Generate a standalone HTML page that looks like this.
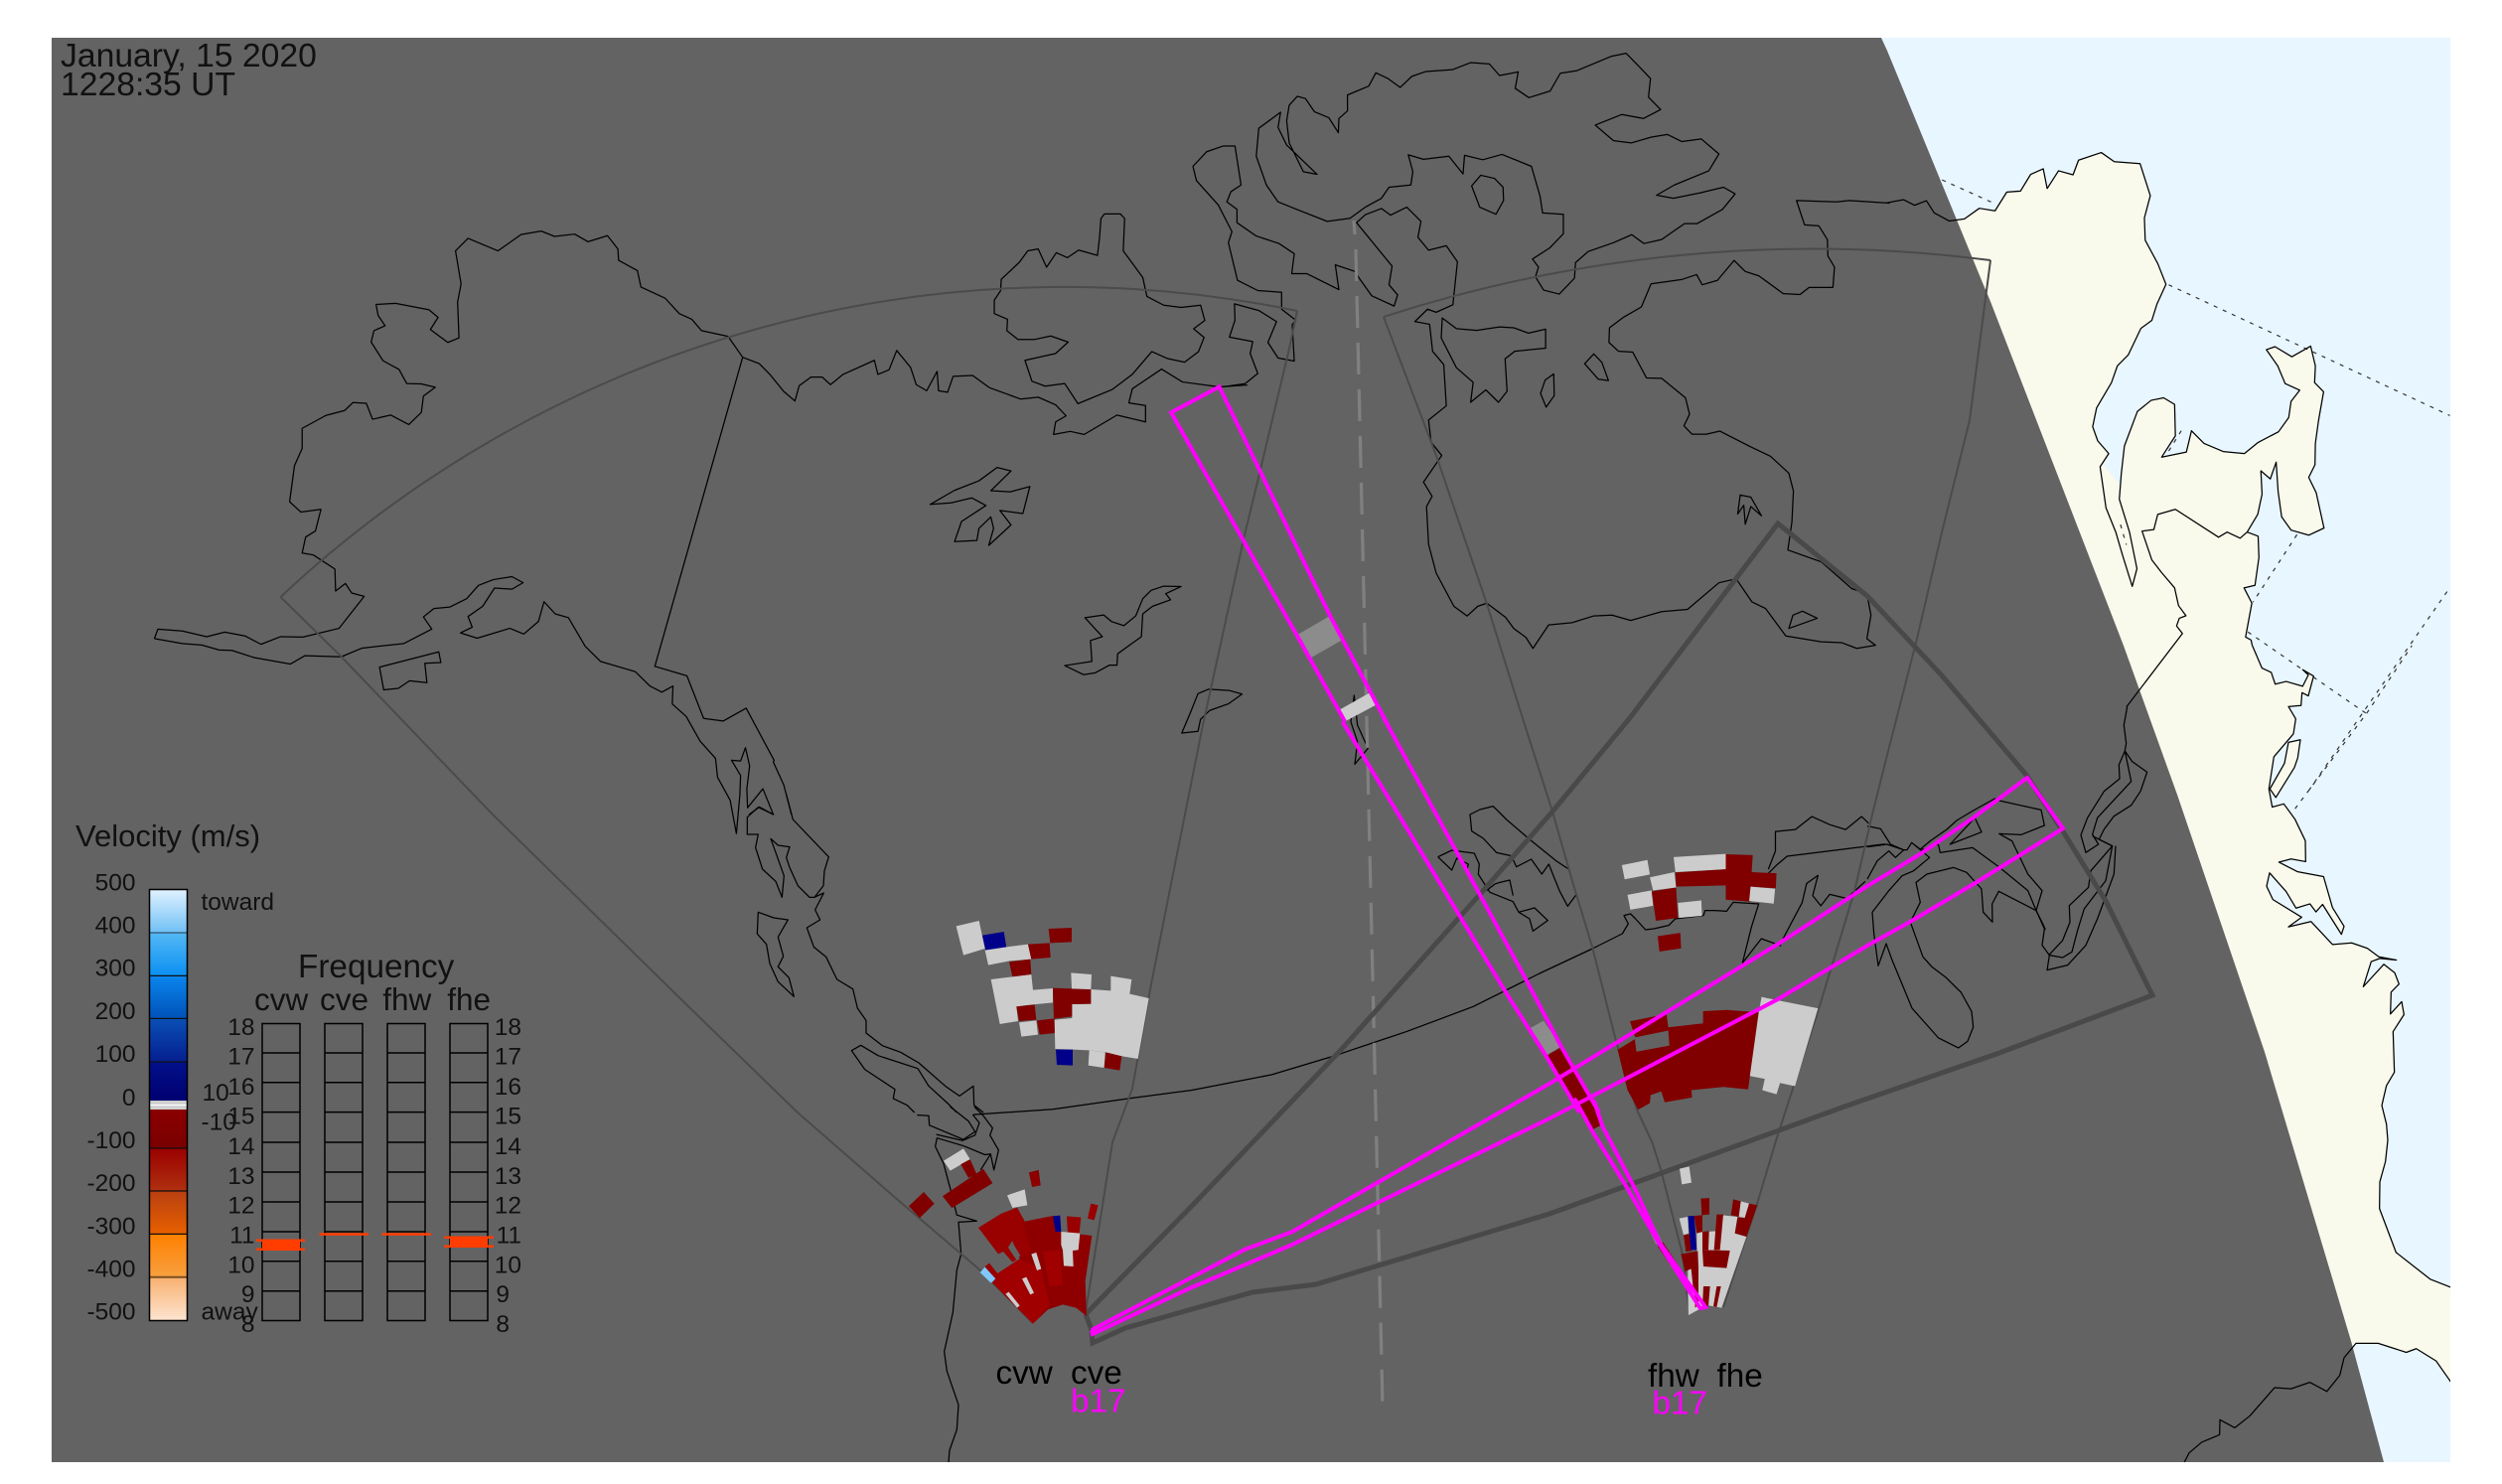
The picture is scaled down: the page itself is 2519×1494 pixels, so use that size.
<!DOCTYPE html>
<html><head><meta charset="utf-8"><title>Velocity map</title>
<style>
html,body{margin:0;padding:0;background:#fff}
svg{display:block}
svg *{vector-effect:non-scaling-stroke}
.c{fill:none;stroke:#000;stroke-width:1.25;stroke-linejoin:round}
.f{fill:none;stroke:#4b4b4b;stroke-width:2}
.d{fill:none;stroke:#333;stroke-width:1.2;stroke-dasharray:4 6}
.k{fill:none;stroke:#494949;stroke-width:5;stroke-linejoin:miter}
.m{fill:none;stroke:#ff00ff;stroke-width:4;stroke-linejoin:miter}
.r{fill:#800000}.w{fill:#cccccc}.b{fill:#00008b}.s{fill:#8c8c8c}
text{font-family:"Liberation Sans",sans-serif;fill:#111}
</style></head><body>
<svg xmlns="http://www.w3.org/2000/svg" width="2519" height="1494" viewBox="0 0 2519 1494">
<defs>
<clipPath id="plot"><rect x="52" y="38" width="2415" height="1434"/></clipPath>
<polyline id="c4" points="0,400 42,394 70,405 100,396 120,420 158,436 197,432 235,411 275,416 305,379 340,377 366,344 398,333 408,372 437,337 474,345 488,316 546,301 579,319 645,323 671,386 656,430 658,474 690,520 711,561 688,600 675,632 647,648 615,700 587,722 572,755 534,805 524,842 537,870 565,895 543,921 558,1002 583,1050 600,1095 625,1157 637,1122 618,1050 592,985 597,935 605,880 638,812 673,790 705,785 733,798 735,860 700,902 763,892 776,850 808,875 857,891 911,895 946,873 998,852 1024,824 1030,792 1052,770 1015,757 996,722 967,690 989,684 1032,704 1080,683 1092,722 1090,755 1113,773 1100,830 1092,875 1091,917 1075,942 1094,972 1114,1042 1075,1056 1030,1046 1006,1020 997,970 992,912 977,945 953,929 956,975 945,1015 918,1050 946,1058 948,1100 938,1155 910,1160 930,1190 914,1257 928,1263 931,1274"/>
<polyline id="c7" points="503,0 532,42 560,50 572,72 605,67 655,76 672,55 655,45 688,57 672,94 653,88 650,112 612,114 634,137 627,165 568,208 553,268 563,302 598,296 632,325 663,365 664,404 620,399 583,405 640,423 718,432 745,490 780,525 772,540 715,484 695,498 677,483 635,491 605,460 555,425 546,450 565,475 652,508 612,526 680,516 745,559 803,556 850,566 885,582 938,588 888,585 862,591 838,638 900,596 933,612 946,633 922,648 920,689 954,666 961,690 928,722 932,798 908,823 894,860 908,895 912,925 905,965 888,1003 887,1053 937,1135 1040,1185 1101,1200 1120,1200 1120,1392 1101,1376 1058,1338 998,1315 968,1322 883,1305 816,1305 780,1332 767,1365 728,1395 677,1378 620,1390 570,1388 495,1441 450,1463 405,1448 404,1476 350,1490 312,1510 297,1528"/>
</defs>
<rect width="2519" height="1494" fill="#fff"/>
<g clip-path="url(#plot)">
<rect x="52" y="38" width="2415" height="1434" fill="#e8f6ff"/>
<polygon points="1900,204 2268,650 2199,1472 2000,1472 1900,500" fill="#f9f9ec"/>
<g transform="translate(1900,0) scale(.39479,.5102)"><use href="#c4" fill="#f9f9ec"/></g>
<g transform="translate(2100,650) scale(.33333,.53821)"><use href="#c7" fill="#f9f9ec"/></g>

<g transform="translate(1900,0) scale(.39479,.5102)">
<polyline class="d" points="140,355 275,402"/>
<polyline class="d" points="718,562 1435,820"/>
<polyline class="d" points="718,890 750,850"/>
<polyline class="d" points="595,1035 610,1075"/>
<polyline class="d" points="1045,1055 933,1188"/>
<polyline class="d" points="920,1247 1222,1408"/>
<polyline class="d" points="1075,1560 1430,1165"/>
</g>
<g transform="translate(2100,650) scale(.33333,.53821)">
<polyline class="d" points="632,305 850,125 985,0"/>
</g>

<polygon points="52,38 1894,38 1900,51 1997,287 2003,301 2138,650 2192,800 2280,1059 2367,1350 2400,1472 52,1472" fill="#636363"/>

<!-- coasts -->
<g transform="translate(1900,0) scale(.39479,.5102)">
<use href="#c4" class="c"/>
<polyline class="c" points="918,1050 900,1062 867,1050 845,1060 735,1005 690,1015 680,1045 650,1048 675,1105 700,1130 733,1160 743,1195 762,1215 745,1220 738,1235 753,1250 610,1395"/>
</g>
<g transform="translate(2100,650) scale(.33333,.53821)">
<use href="#c7" class="c"/>
<polygon class="c" style="fill:#f9f9ec" points="612,181 648,176 640,210 630,228 574,284 556,268 600,220"/>
</g>
<g transform="translate(140,220) scale(.70175,.3827)">
<polyline class="c" points="22,1105 27,1080 62,1085 97,1100 123,1088 152,1098 175,1120 203,1100 235,1101 287,1078 323,994 305,985 296,960 282,980 281,922 250,885 234,880 239,838 253,822 261,765 232,772 216,745 223,650 234,605 234,552 268,518 295,505 307,484 326,486 335,528 361,517 387,542 405,510 408,467 425,444 405,435 384,434 373,397 350,374 333,325 337,295 353,282 343,255 340,226 368,223 416,240 429,260 418,292 443,326 459,314 457,220 462,172 454,85 472,52 515,85 548,42 577,33 596,47 625,41 644,61 672,45 687,80 688,110 715,137 720,180 755,210 775,250 793,265 807,295 845,310 866,365 890,382 905,410 925,455 941,480 947,440 964,417 980,417 992,437 1010,410 1055,373 1060,410 1076,398 1087,347 1107,392 1115,437 1130,453 1145,402 1147,453 1160,457 1168,415 1196,413 1220,445 1265,475 1290,470 1315,490 1330,519 1315,535 1312,568 1336,560 1356,568 1403,517 1444,535 1444,492 1420,485 1425,448 1467,396 1497,430 1550,443 1590,438"/>
<polyline class="c" points="22,1105 62,1118 90,1122 115,1135 133,1136 165,1155 217,1172 238,1150 290,1153 320,1130 380,1118 420,1080 408,1048 423,1026 446,1022 470,1000 487,965 508,950 535,942 551,958 535,975 510,972 493,1020 472,1047 478,1075 461,1090 485,1104 532,1078 552,1093 573,1060 581,1008 597,1040 616,1050 640,1125 662,1165 712,1192 733,1230 750,1246 766,1230 765,1277 785,1310 805,1375 827,1420 830,1470 848,1530 857,1618 862,1515 863,1465 850,1425 863,1427 870,1392 876,1440 872,1500 873,1550 895,1500 910,1568 890,1548 875,1568"/>
<polyline class="c" points="866,365 740,1178 786,1203 810,1315 838,1322 871,1288 911,1425 910,1430 925,1490 936,1568"/>
<polygon class="c" points="1380,0 1378,50 1375,97 1348,83 1332,103 1316,90 1302,128 1290,80 1275,85 1263,115 1237,160 1236,190 1227,215 1227,250 1246,265 1245,295 1261,318 1285,318 1308,309 1333,325 1315,355 1271,373 1281,428 1300,441 1328,434 1347,487 1396,450 1425,410 1453,350 1475,368 1500,378 1520,350 1528,313 1513,290 1529,268 1523,228 1495,234 1470,228 1446,205 1440,155 1412,85 1414,0 1408,-12 1385,-12"/>
<polygon class="c" points="1135,752 1170,715 1205,690 1231,655 1251,664 1222,716 1250,719 1278,705 1268,776 1235,768 1251,806 1219,860 1226,815 1222,785 1205,815 1202,847 1170,850 1180,797 1215,755 1195,735 1165,748"/>
<polygon class="c" points="1495,968 1470,967 1452,978 1440,1000 1430,1045 1413,1071 1395,1060 1384,1043 1357,1050 1382,1100 1365,1110 1367,1165 1328,1176 1355,1200 1372,1195 1392,1175 1403,1175 1404,1145 1438,1100 1440,1040 1454,1020 1480,1003 1473,987"/>
<polygon class="c" points="430,1140 345,1180 351,1240 372,1236 388,1216 413,1221 410,1170 433,1168"/>
</g>
<g transform="translate(1150,30) scale(.5102,.44643)">
<polyline class="c" points="160,805 203,798 228,775 213,730 218,703 172,693 183,655 182,618 230,633 265,658 248,705 268,740 300,747 296,665 303,655 275,630 275,592 228,588 188,565 170,480 177,455 150,395 107,340 100,308 127,275 160,262 183,262 195,350 175,365 167,388 187,405 187,435 225,465 270,482 300,505 295,550 325,550 388,586 381,530 420,545 428,560 453,600 497,623 504,598 487,575 493,533 423,435 440,417 472,403 490,418 522,400 550,432 544,468 565,497 600,487 622,523 613,620 580,637 563,630 538,658 567,664 573,725 595,755 600,848 565,880 570,930 591,960 555,1020 572,1052 561,1075 565,1160 580,1225 615,1300 641,1322 662,1300 680,1293 717,1325 733,1350 757,1370 771,1395 802,1342 848,1337 890,1322 927,1320 964,1332 1025,1312 1076,1307 1138,1247 1172,1238 1203,1290 1230,1305 1270,1367 1340,1380 1380,1382 1410,1395 1447,1388 1430,1373 1438,1320 1430,1272 1400,1260 1340,1200 1274,1173 1282,1110 1285,1040 1276,1000 1240,962 1200,940 1140,905 1113,912 1085,912 1069,893 1080,867 1072,830 1025,786 995,785 968,727 940,725 921,705 922,672 950,648 985,625 1004,573 1065,563 1094,552 1105,575 1135,565 1168,520 1190,545 1217,555 1265,595 1298,597 1316,581 1363,581 1366,535 1353,510 1352,473 1335,442 1307,440 1291,385 1370,388 1395,385 1475,391"/>
<polygon class="c" points="387,232 368,198 340,185 322,155 306,150 290,170 285,205 290,255 318,320 345,326 285,260 268,220 273,186 230,222 225,285 245,350 268,388 305,405 365,432 410,425 440,400 472,380 487,355 530,350 534,320 525,282 555,292 605,285 633,325 636,283 672,293 710,281 768,308 785,375 790,413 831,416 831,460 804,492 770,517 782,535 776,557 792,587 823,596 853,560 855,525 880,500 930,480 966,462 990,482 1025,473 1070,437 1095,437 1145,405 1170,370 1147,355 1100,368 1048,380 1015,373 1050,350 1118,318 1138,280 1103,246 1065,252 1036,236 1005,242 965,255 930,250 894,215 946,191 989,200 1023,180 999,152 1003,110 978,80 955,53 925,60 858,92 825,98 805,138 763,153 736,132 742,95 705,103 685,77 648,74 612,90 560,94 532,105 509,130 485,110 461,97 447,127 405,147 405,183 388,200"/>
<polygon class="c" points="650,352 668,328 695,335 712,355 713,385 698,416 666,400"/>
<polygon class="c" points="592,650 620,674 660,678 705,670 733,672 762,684 796,675 796,718 735,725 716,742 720,815 703,840 678,812 648,840 653,795 620,762 590,695"/>
<polygon class="c" points="786,820 795,790 812,776 813,825 797,851"/>
<polygon class="c" points="873,753 891,731 907,750 920,791 900,788"/>
<polygon class="c" points="1180,1049 1201,1054 1222,1096 1201,1075 1190,1115 1187,1072 1175,1092"/>
<polygon class="c" points="1276,1350 1284,1320 1303,1311 1332,1327"/>
<polygon class="c" points="197,1498 172,1490 131,1487 110,1497 95,1540 78,1586 110,1582 115,1555 133,1535 170,1520"/>
</g>
<g transform="translate(700,800) scale(.33333)">
<polyline class="c" points="275,0 295,75 403,188 390,230 387,275 360,310 388,297 362,348 377,378 337,402 358,460 395,490 428,558 476,587 490,645 516,682 516,720 565,758 620,778 675,810 755,880 798,910 840,880 842,938 870,960"/>
<polyline class="c" points="237,60 190,38 157,68 157,120 190,120 182,160 203,225 243,262 262,310 268,245 228,133 250,153 285,158 275,190 285,220 310,275 345,310 360,310"/>
<polygon class="c" points="190,355 237,372 280,378 250,430 266,488 250,520 283,553 298,610 250,565 225,510 215,452 187,420"/>
<polyline class="c" points="790,960 760,930 705,880 672,827 552,788 500,757 472,773 512,830 603,890 598,918 640,938 662,960"/>
</g>
<g transform="translate(900,900) scale(.33333,.35714)">
<polyline class="c" points="243,600 270,625 298,660 290,680 316,722 302,778 292,733 262,778"/>
<polyline class="c" points="170,600 225,640 245,670 210,692 107,652 105,625 70,623"/>
<polyline class="c" points="240,622 480,607 720,575 900,553"/>
<polyline class="c" points="238,622 258,645 245,680 208,695 128,678"/>
<polyline class="c" points="292,733 275,735 210,710 130,688 125,712 150,760 170,830 190,905 250,922 195,925 203,1015 190,1060 178,1180 152,1290 160,1345 195,1440 190,1510 168,1568"/>
</g>
<polyline class="c" points="956,1460 955,1472"/>
<polyline class="c" points="1200,1097.5 1280,1082 1350,1061"/>
<g transform="translate(1350,720) scale(.33333)">
<polyline class="c" points="0,1022 200,955 400,880 600,780 760,705 850,660 868,630 855,605 875,600 890,615 920,648 945,645 990,635 1010,615 1095,605 1100,590 1130,590 1165,592 1185,565 1262,570 1240,640 1213,748 1270,675 1330,697"/>
<polyline class="c" points="710,543 685,577 660,530 628,450 607,480 575,435 530,458 515,425 470,415 430,372 395,350 390,300 420,285 460,275 500,315 570,375 650,440 688,465"/>
<polyline class="c" points="293,428 335,408 403,417 418,450 415,480 440,520 450,535 520,563 537,595 585,582 625,620 580,652 570,615 537,595"/>
<polyline class="c" points="293,428 335,468 350,432 385,450 380,470"/>
<polyline class="c" points="440,530 465,510 480,505 510,498 520,545"/>
<polygon class="c" points="40,-60 50,30 82,100 42,148 50,80 30,20"/>
</g>
<g transform="translate(1560,820) scale(.35714,.40816)">
<polyline class="c" points="617,135 637,90 637,42 693,37 740,5 790,25 835,37 880,5 900,22"/>
<polyline class="c" points="617,145 640,125 670,103 945,73"/>
<polyline class="c" points="650,320 712,218 725,170 757,150 742,200 765,225 790,197 838,207 890,165"/>
</g>
<g transform="translate(1880,680) scale(.33333)">
<polyline class="c" points="0,455 40,463 70,510 110,527 85,550 65,530 30,560 0,615"/>
<polyline class="c" points="0,518 60,510 110,527 120,527 134,505 188,550 140,590 105,605 65,650 15,715 20,780 33,877 57,810 75,860 135,1005 215,1095 275,1125 303,1105 320,1062 315,1015 283,957 235,910 195,880 168,850 130,745 160,685 147,625 180,600 260,580 300,595 345,645 350,715 378,745 377,690 397,652 510,710 528,650 485,600 437,500 398,478 465,481 535,453 525,406 398,378 385,372 320,408 270,438 240,465 190,500 160,525 134,505"/>
<polyline class="c" points="160,525 185,525 205,510 215,512 220,535 318,520 400,580 485,650 510,710 530,750 538,768"/>
<polygon class="c" points="325,430 345,473 250,510"/>
<polyline class="c" points="785,95 775,150 782,205 778,228 760,270 762,312 715,350 665,430 645,482 660,535 698,510 680,480 695,430 797,320 778,228 800,260 845,292 825,350 797,392 745,425 715,465 700,495 740,515"/>
<polyline class="c" points="680,485 740,515 675,590 668,640 610,695 612,745 590,800 548,845"/>
<polyline class="c" points="740,515 720,620 655,705 635,770 618,835 590,852 550,845 528,815 535,765 510,710"/>
<polyline class="c" points="750,515 745,600 695,735 660,815 605,875 543,890 550,845"/>
</g>

<!-- thin FOV lines -->
<path class="f" d="M282.5,601 A1153,1153 0 0 1 1306,313"/>
<polyline class="f" points="282.5,601 343.5,661 496,820 700,1020 803,1120 900,1204.6 986.7,1278.6 1040,1332"/>
<polyline class="f" points="1306,313 1298,351 1267,481 1252,543 1211,730 1177,900 1158,996 1140,1096 1120,1150 1093,1321"/>
<path class="f" d="M1393,319 A1400,1400 0 0 1 2004,262"/>
<polyline class="f" points="2004,262 1983,423 1955,536 1930,643 1900,760 1885,820 1867,897.5 1831,1016 1806,1093 1788.6,1146.6 1769,1212 1735,1316"/>
<polyline class="f" points="1393,319 1446,458.6 1497,608 1532,720 1563,817 1583,887 1603,953 1627,1048 1647.5,1116 1663.6,1150.6 1672.5,1179 1694,1263 1700,1314"/>

<!-- dashed vertical -->
<polyline fill="none" stroke="#808080" stroke-width="3.2" points="1363,222 1364,236"/>
<line x1="1365" y1="251" x2="1392" y2="1415" stroke="#808080" stroke-width="3.2" stroke-dasharray="32 15"/>

<!-- thick outline -->
<polyline class="k" points="1093,1323 1200,1214 1350,1057 1493,897 1563,817 1640,724 1790,527 1880,600 1955,680 2040,780 2077,837 2120,907 2167,1002 2013,1060 1857,1114 1560,1222 1325,1293 1261,1301 1200,1318 1133,1337 1100,1352 1099,1339 1093,1323"/>

<!-- cells: cv cluster upper -->
<g transform="translate(700,800) scale(.33333)">
<polygon class="w" points="788,397 857,381 875,465 810,485"/>
<polygon class="b" points="867,425 932,414 940,462 877,470"/>
<polygon class="w" points="875,470 940,460 1005,452 1015,497 950,502 885,515"/>
<polygon class="r" points="1005,452 1070,448 1073,492 1015,497"/>
<polygon class="r" points="1067,405 1137,402 1137,445 1072,448"/>
<polygon class="r" points="948,505 1012,497 1015,545 958,550"/>
<polygon class="w" points="893,558 958,550 1015,543 1020,590 1080,585 1080,628 1000,636 970,640 975,684 920,693"/>
<polygon class="r" points="970,640 1025,634 1030,680 978,684"/>
<polygon class="w" points="978,688 1030,682 1035,725 985,731"/>
<polygon class="r" points="1032,682 1085,676 1087,720 1040,725"/>
<polygon class="w" points="1138,633 1195,632 1195,588 1255,592 1255,548 1318,558 1312,602 1370,615 1337,798 1290,790 1240,778 1190,772 1140,770 1087,768 1085,680 1138,675"/>
<polygon class="r" points="1080,584 1195,588 1195,632 1138,633 1138,670 1083,677"/>
<polygon class="w" points="1135,538 1197,543 1195,588 1137,586"/>
<polygon class="b" points="1089,770 1140,770 1140,818 1092,816"/>
<polygon class="w" points="1190,772 1238,778 1235,825 1187,818"/>
<polygon class="r" points="1240,778 1288,790 1282,833 1235,825"/>
</g>
<g transform="translate(900,900) scale(.33333,.35714)">
<polygon class="w" points="150,752 210,718 230,748 170,780"/>
<polygon class="r" points="202,762 230,748 250,790 225,800"/>
<polygon class="r" points="147,852 270,775 298,815 175,885"/>
<polygon class="r" points="45,880 90,840 122,873 78,913"/>
<polygon class="r" points="408,785 437,778 443,820 417,825"/>
</g>
<!-- cv fan -->
<g transform="translate(970,1180) scale(.33333)">
<polygon fill="#990000" points="45,168 115,125 162,107 185,148 130,235 105,247"/>
<polygon fill="#990000" points="120,240 135,228 160,265 148,272"/>
<polygon fill="#8e0000" points="105,305 170,262 200,240 180,150 270,132 295,180 388,192 368,330 372,435 340,410 300,400 255,415 210,458 88,335"/>
<polygon fill="#a00000" points="105,305 170,262 235,292 260,400 210,458 88,335"/>
<polygon fill="#a00000" points="240,240 290,235 300,340 260,345"/>
<polygon fill="#990000" points="130,165 180,150 205,240 170,262"/>
<polygon fill="#636363" points="137,228 150,216 172,252 160,262"/>
<polygon fill="#990000" points="65,285 78,275 108,312 95,332"/>
<polygon fill="#80c8ff" points="50,303 65,287 97,322 83,335"/>
<polygon class="w" points="132,70 185,52 193,100 148,108"/>
<polygon fill="#8e0000" points="198,0 225,0 233,40 208,45"/>
<polygon fill="#990000" points="385,95 407,100 395,145 375,140"/>
<polygon class="b" points="270,133 292,131 295,180 278,180"/>
<polygon fill="#990000" points="312,133 355,137 350,185 315,185"/>
<polygon class="w" points="295,180 352,185 347,235 330,237 332,285 303,283 300,235 295,220"/>
<polygon class="w" points="205,248 220,243 235,292 222,297"/>
<polygon class="w" points="177,322 190,317 213,365 202,370"/>
<polygon class="w" points="127,368 137,362 170,403 162,410"/>
</g>
<!-- fh cells upper + big -->
<g transform="translate(1560,820) scale(.35714,.40816)">
<polygon class="w" points="204,125 276,112 283,148 212,160"/>
<polygon class="w" points="283,155 352,142 357,180 292,187"/>
<polygon class="w" points="350,105 497,97 497,135 355,142"/>
<polygon class="r" points="355,143 497,135 497,175 357,178"/>
<polygon class="r" points="497,98 573,100 570,142 640,145 638,182 567,178 565,215 497,210"/>
<polygon class="w" points="567,178 636,183 632,220 563,213"/>
<polygon class="w" points="220,198 288,187 292,225 228,235"/>
<polygon class="r" points="288,190 357,180 362,255 300,262"/>
<polygon class="w" points="362,218 428,212 430,250 365,255"/>
<polygon class="r" points="305,300 369,292 371,330 310,338"/>
<polygon class="r" points="227,510 330,492 335,525 433,515 433,485 500,482 590,488 560,678 490,672 400,680 402,698 325,710 315,683 285,692 283,712 250,728 220,680 192,580 245,552 240,546"/>
<polygon fill="#636363" points="240,550 335,533 338,570 245,585"/>
<polygon class="w" points="598,450 625,455 757,478 692,670 650,662 640,690 600,680 607,652 565,645 590,488"/>
</g>
<!-- fh fan -->
<g transform="translate(1660,1160) scale(.33333)">
<polygon class="w" points="93,50 122,43 129,92 100,97"/>
<polygon class="r" points="157,140 183,138 183,188 160,190"/>
<polygon class="w" points="145,242 205,238 222,190 268,195 260,245 295,255 220,470 175,462 120,492 118,420 118,350 145,345"/>
<polygon class="r" points="255,142 278,148 272,195 248,190"/>
<polygon class="w" points="278,148 303,155 290,198 272,195"/>
<polygon class="r" points="303,155 328,160 295,255 260,245 268,197 290,198"/>
<polygon class="w" points="92,200 118,195 120,245 105,250"/>
<polygon class="r" points="137,192 162,190 162,240 145,245"/>
<polygon class="r" points="105,250 125,247 130,298 112,300"/>
<polygon class="b" points="118,193 137,192 145,295 127,295"/>
<polygon class="r" points="162,240 182,238 180,295 162,295"/>
<polygon class="r" points="205,188 225,188 215,295 197,295"/>
<polygon class="r" points="162,295 245,297 235,350 165,345"/>
<polygon class="r" points="97,308 148,298 150,350 135,420 128,352 110,360"/>
<polygon class="r" points="135,352 150,350 150,460 140,470"/>
<polygon class="r" points="165,405 185,405 180,465 162,465"/>
<polygon class="r" points="205,405 218,405 205,468 195,465"/>
</g>
<!-- beam cells -->
<g transform="translate(1150,30) scale(.5102,.44643)">
<polygon class="s" points="305,1365 370,1322 396,1375 330,1418"/>
<polygon class="w" points="387,1535 452,1493 465,1520 400,1560"/>
</g>
<g transform="translate(1350,720) scale(.33333)">
<polygon class="s" points="572,945 612,923 665,1000 620,1028"/>
<polygon class="r" points="620,1030 665,1003 780,1200 720,1200"/>
</g>
<g transform="translate(1560,820) scale(.35714,.40816)">
<polygon class="r" points="0,590 35,575 148,765 115,780 75,720 0,610"/>
<polygon class="s" points="262,988 278,985 316,1052 300,1060"/>
<polygon class="r" points="305,1065 320,1055 403,1165 393,1178"/>
</g>

<!-- magenta beams -->
<polyline class="m" points="1099,1339 1253,1258 1301,1240 1560,1091 1789,951 1880,892 1933,860 1987,823 2041,783 2077,834 1987,890 1923,928 1880,952 1790,1006 1560,1126 1301,1253 1200,1296 1100,1343 1099,1339"/>
<g transform="translate(1150,30) scale(.5102,.44643)">
<polyline class="m" points="485,1568 370,1320 152,805 57,863 305,1365 400,1560"/>
</g>
<g transform="translate(1350,720) scale(.33333)">
<polyline class="m" points="125,0 560,800 665,1000 780,1200"/>
<polyline class="m" points="5,20 500,840 620,1030 720,1200"/>
</g>
<g transform="translate(1560,820) scale(.35714,.40816)">
<polyline class="m" points="125,705 150,770 180,820 245,930 310,1055 440,1215 425,1218 310,1060 215,915 120,780 70,700"/>
</g>
</g>

<!-- legend -->
<text x="61" y="67" font-size="33.7">January, 15 2020</text>
<text x="61" y="96" font-size="33.7">1228:35 UT</text>
<text x="76" y="852" font-size="31">Velocity (m/s)</text>

<defs>
<linearGradient id="g1" x1="0" y1="0" x2="0" y2="1"><stop offset="0" stop-color="#dff1ff"/><stop offset="1" stop-color="#70c0f5"/></linearGradient>
<linearGradient id="g2" x1="0" y1="0" x2="0" y2="1"><stop offset="0" stop-color="#55b8f5"/><stop offset="1" stop-color="#0a90f2"/></linearGradient>
<linearGradient id="g3" x1="0" y1="0" x2="0" y2="1"><stop offset="0" stop-color="#0a86ee"/><stop offset="1" stop-color="#0052b8"/></linearGradient>
<linearGradient id="g4" x1="0" y1="0" x2="0" y2="1"><stop offset="0" stop-color="#0a4fb5"/><stop offset="1" stop-color="#051f90"/></linearGradient>
<linearGradient id="g5" x1="0" y1="0" x2="0" y2="1"><stop offset="0" stop-color="#02108a"/><stop offset="1" stop-color="#000070"/></linearGradient>
<linearGradient id="g6" x1="0" y1="0" x2="0" y2="1"><stop offset="0" stop-color="#8b0000"/><stop offset="1" stop-color="#7a0000"/></linearGradient>
<linearGradient id="g7" x1="0" y1="0" x2="0" y2="1"><stop offset="0" stop-color="#9a0000"/><stop offset="1" stop-color="#b03010"/></linearGradient>
<linearGradient id="g8" x1="0" y1="0" x2="0" y2="1"><stop offset="0" stop-color="#b84010"/><stop offset="1" stop-color="#e86000"/></linearGradient>
<linearGradient id="g9" x1="0" y1="0" x2="0" y2="1"><stop offset="0" stop-color="#ff8000"/><stop offset="1" stop-color="#f8a040"/></linearGradient>
<linearGradient id="g10" x1="0" y1="0" x2="0" y2="1"><stop offset="0" stop-color="#f8b070"/><stop offset="1" stop-color="#fde4d0"/></linearGradient>
</defs>
<rect x="151" y="896" width="37" height="43" fill="url(#g1)"/>
<rect x="151" y="939" width="37" height="43.4" fill="url(#g2)"/>
<rect x="151" y="982.4" width="37" height="43" fill="url(#g3)"/>
<rect x="151" y="1025.4" width="37" height="43.6" fill="url(#g4)"/>
<rect x="151" y="1069" width="37" height="39" fill="url(#g5)"/>
<rect x="151" y="1108" width="37" height="9" fill="#cfcfcf"/>
<rect x="151" y="1117" width="37" height="39" fill="url(#g6)"/>
<rect x="151" y="1156" width="37" height="43" fill="url(#g7)"/>
<rect x="151" y="1199" width="37" height="43.4" fill="url(#g8)"/>
<rect x="151" y="1242.4" width="37" height="43.3" fill="url(#g9)"/>
<rect x="151" y="1285.7" width="37" height="43.7" fill="url(#g10)"/>
<g stroke="#111" stroke-width="1.3">
<line x1="151" x2="188" y1="939" y2="939" stroke="#33536b"/>
<line x1="151" x2="188" y1="982.4" y2="982.4"/>
<line x1="151" x2="188" y1="1025.4" y2="1025.4"/>
<line x1="151" x2="188" y1="1069" y2="1069"/>
<line x1="151" x2="188" y1="1112.5" y2="1112.5" stroke="#fff"/>
<line x1="151" x2="188" y1="1156" y2="1156"/>
<line x1="151" x2="188" y1="1199" y2="1199"/>
<line x1="151" x2="188" y1="1242.4" y2="1242.4"/>
<line x1="151" x2="188" y1="1285.7" y2="1285.7" stroke="#7a5020" stroke-width="2"/>
</g>
<rect x="150.5" y="895.5" width="38" height="434" fill="none" stroke="#000" stroke-width="1.5"/>
<g font-size="24.5" text-anchor="end">
<text x="136.5" y="896.5">500</text><text x="136.5" y="939.5">400</text><text x="136.5" y="982.4">300</text><text x="136.5" y="1026">200</text><text x="136.5" y="1069">100</text><text x="136.5" y="1113">0</text><text x="136.5" y="1156">-100</text><text x="136.5" y="1199">-200</text><text x="136.5" y="1242.5">-300</text><text x="136.5" y="1285.7">-400</text><text x="136.5" y="1328.7">-500</text>
</g>
<g font-size="24.5">
<text x="202.5" y="916">toward</text>
<text x="202.5" y="1328.7">away</text>
<text x="203.5" y="1108">10</text>
<text x="202.5" y="1137.7">-10</text>
</g>
<text x="300" y="984" font-size="33.3">Frequency</text>
<g font-size="31.5">
<text x="256" y="1016.8">cvw</text><text x="322" y="1016.8">cve</text><text x="385.2" y="1016.8">fhw</text><text x="450.2" y="1016.8">fhe</text>
</g>
<g fill="none" stroke="#000" stroke-width="1.5">
<rect x="264" y="1030.5" width="38" height="299"/><rect x="327" y="1030.5" width="38" height="299"/><rect x="390" y="1030.5" width="38" height="299"/><rect x="453" y="1030.5" width="38" height="299"/>
<path d="M264 1060H302M264 1089.7H302M264 1119.6H302M264 1150H302M264 1180H302M264 1210H302M264 1240H302M264 1269.8H302M264 1299.8H302M327 1060H365M327 1089.7H365M327 1119.6H365M327 1150H365M327 1180H365M327 1210H365M327 1240H365M327 1269.8H365M327 1299.8H365M390 1060H428M390 1089.7H428M390 1119.6H428M390 1150H428M390 1180H428M390 1210H428M390 1240H428M390 1269.8H428M390 1299.8H428M453 1060H491M453 1089.7H491M453 1119.6H491M453 1150H491M453 1180H491M453 1210H491M453 1240H491M453 1269.8H491M453 1299.8H491"/>
</g>
<g fill="#ff3d00">
<rect x="264" y="1248" width="38" height="11"/><rect x="258" y="1247.5" width="49" height="2.5"/><rect x="258" y="1256.5" width="49" height="2.5"/>
<rect x="321.5" y="1241.3" width="49.5" height="2.5"/><rect x="384.5" y="1241.3" width="49.5" height="2.5"/>
<rect x="453" y="1245" width="38" height="11"/><rect x="447" y="1244.5" width="50" height="2.5"/><rect x="447" y="1253.5" width="50" height="2.5"/>
</g>
<g font-size="24.5" text-anchor="end">
<text x="256.5" y="1042">18</text><text x="256.5" y="1071.5">17</text><text x="256.5" y="1101.9">16</text><text x="256.5" y="1131.5">15</text><text x="256.5" y="1161.8">14</text><text x="256.5" y="1191.8">13</text><text x="256.5" y="1221.4">12</text><text x="256.5" y="1251.7">11</text><text x="256.5" y="1281.3">10</text><text x="256.5" y="1310.9">9</text><text x="256.5" y="1341.2">8</text>
<text x="525" y="1042">18</text><text x="525" y="1071.5">17</text><text x="525" y="1101.9">16</text><text x="525" y="1131.5">15</text><text x="525" y="1161.8">14</text><text x="525" y="1191.8">13</text><text x="525" y="1221.4">12</text><text x="525" y="1251.7">11</text><text x="525" y="1281.3">10</text><text x="513" y="1310.9">9</text><text x="513" y="1341.2">8</text>
</g>
<g font-size="33.3">
<text x="1002.5" y="1393" style="fill:#000">cvw</text><text x="1078" y="1393" style="fill:#000">cve</text>
<text x="1078" y="1421.5" style="fill:#ff00ff">b17</text>
<text x="1659" y="1396" style="fill:#000">fhw</text><text x="1728.5" y="1396" style="fill:#000">fhe</text>
<text x="1663.5" y="1423.5" style="fill:#ff00ff">b17</text>
</g>
</svg>
</body></html>
